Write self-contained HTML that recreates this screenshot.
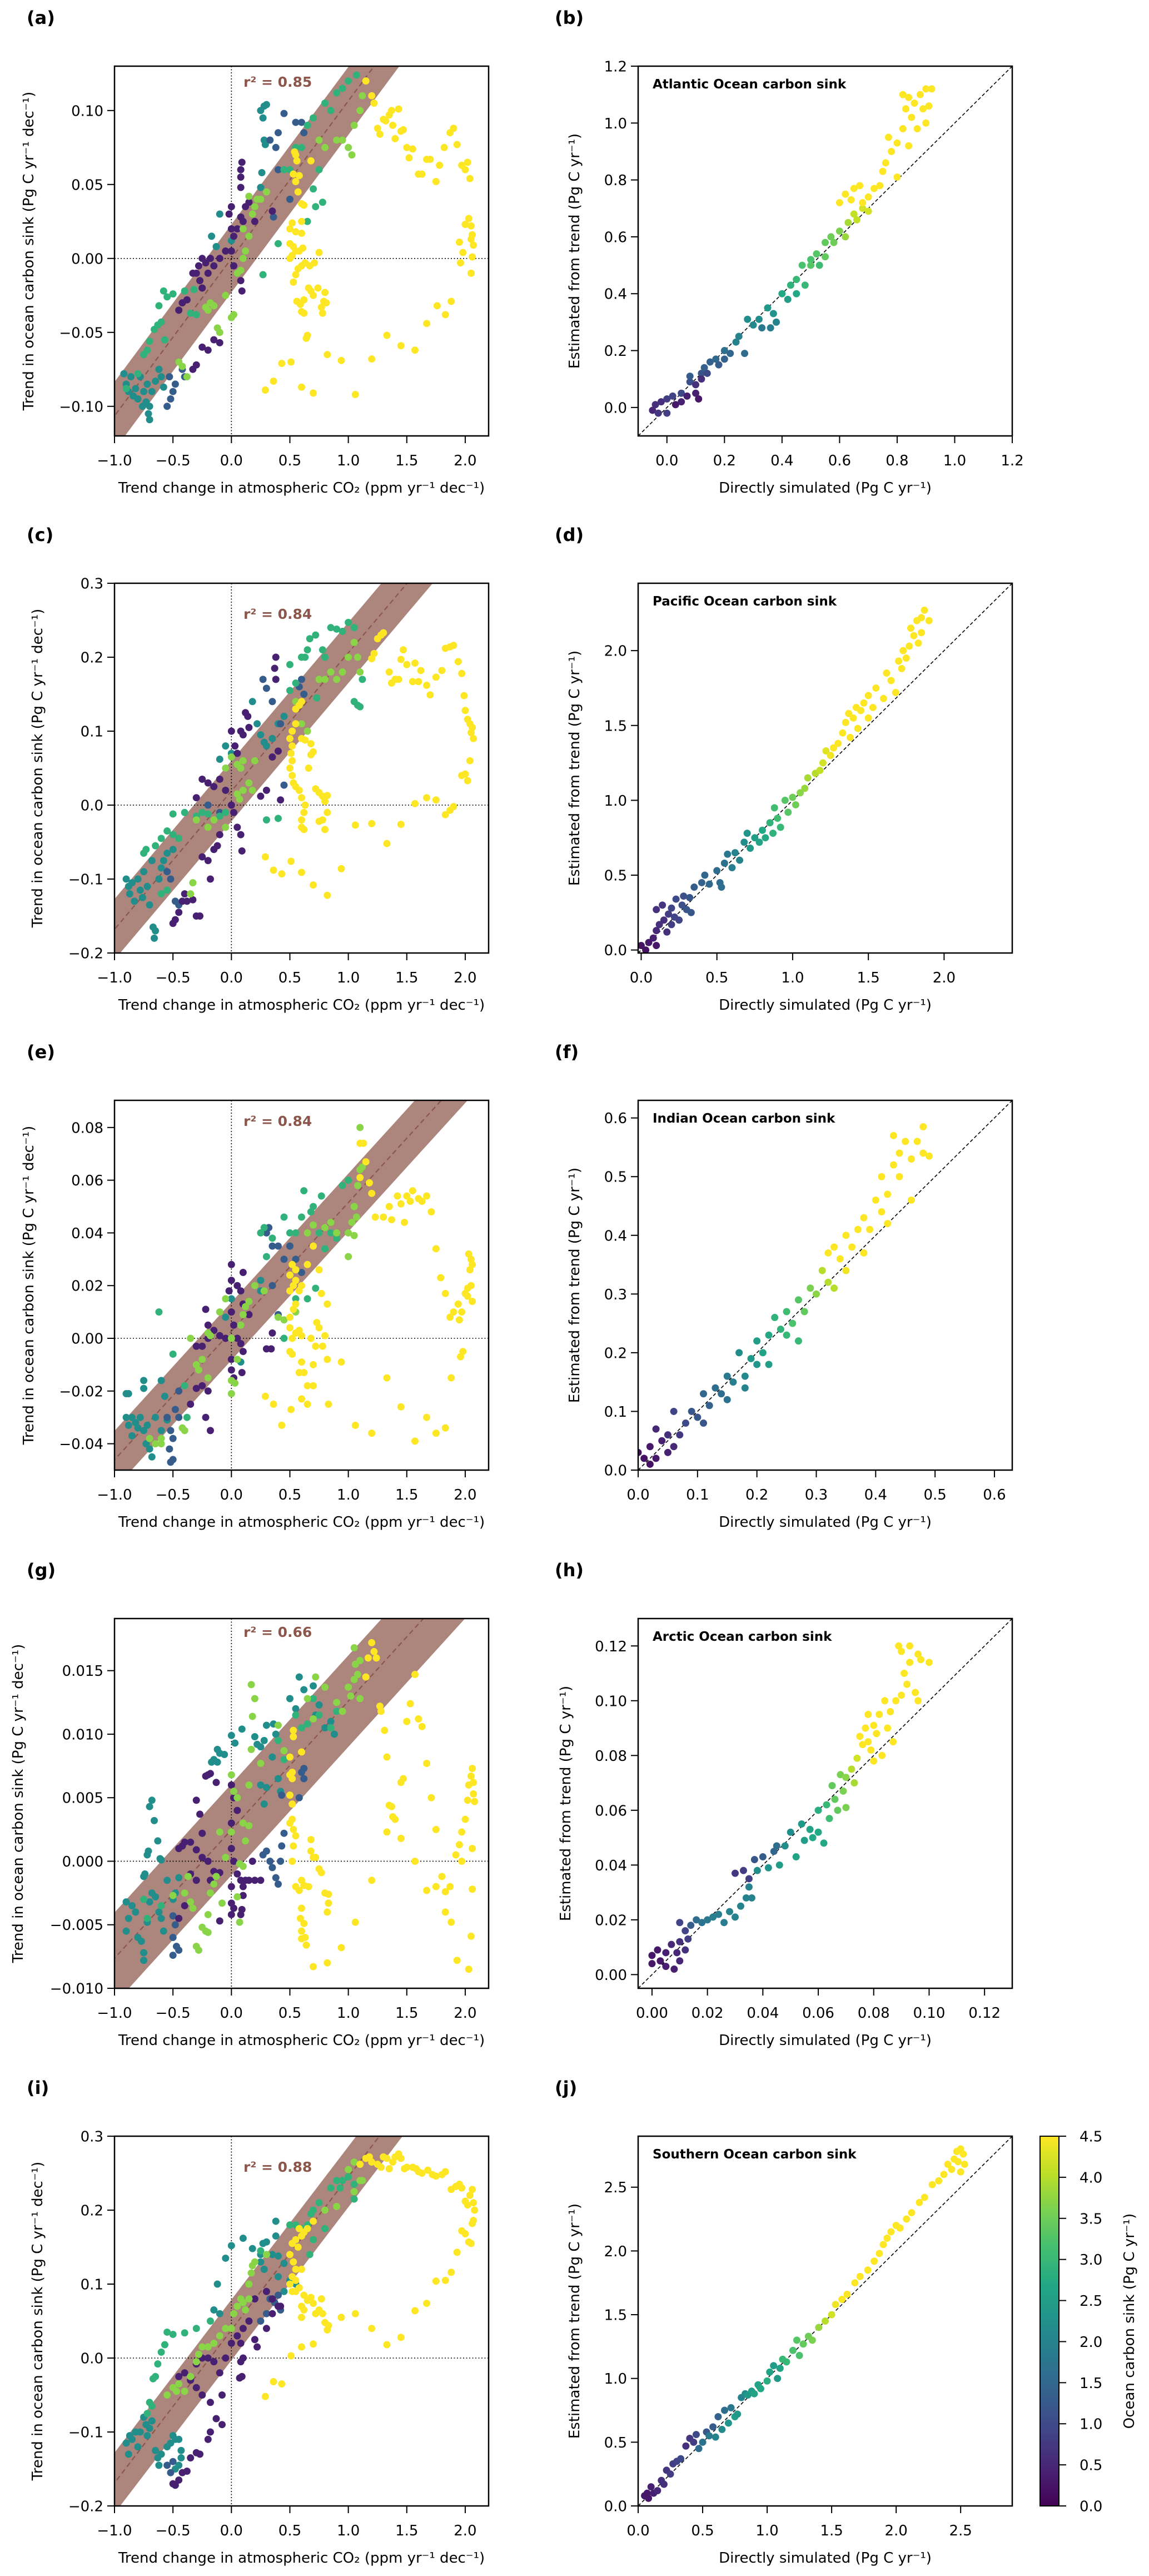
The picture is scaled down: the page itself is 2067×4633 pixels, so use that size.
<!DOCTYPE html>
<html><head><meta charset="utf-8"><style>
html,body{margin:0;padding:0;background:#fff;}
svg{display:block;font-family:"DejaVu Sans","Liberation Sans",sans-serif;}
</style></head><body>
<svg id="fig" width="2067" height="4633" viewBox="0 0 2067 4633" xmlns="http://www.w3.org/2000/svg">
<defs>
<linearGradient id="vir" x1="0" y1="1" x2="0" y2="0">
<stop offset="0" stop-color="#440154"/><stop offset="0.1" stop-color="#482475"/><stop offset="0.2" stop-color="#414487"/><stop offset="0.3" stop-color="#355f8d"/><stop offset="0.4" stop-color="#2a788e"/><stop offset="0.5" stop-color="#21918c"/><stop offset="0.6" stop-color="#22a884"/><stop offset="0.7" stop-color="#44bf70"/><stop offset="0.8" stop-color="#7ad151"/><stop offset="0.9" stop-color="#bddf26"/><stop offset="1" stop-color="#fde725"/>
</linearGradient>
</defs>
</svg>
<script>
// ---------- DATA ----------
const C_Y=4.5, C_T=2.2, C_B=1.3, C_P=0.4, C_G=2.9, C_L=3.7;
const aYellow=[[1.15,0.12],[1.2,0.11],[1.22,0.105],[1.25,0.088],[1.27,0.084],[1.3,0.094],[1.32,0.093],[1.35,0.097],[1.37,0.1],[1.38,0.09],[1.4,0.081],[1.43,0.101],[1.45,0.086],[1.47,0.087],[1.5,0.075],[1.52,0.068],[1.55,0.074],[1.6,0.057],[1.63,0.057],[1.67,0.067],[1.7,0.067],[1.75,0.052],[1.78,0.063],[1.82,0.075],[1.87,0.085],[1.9,0.088],[1.93,0.077],[1.97,0.063],[2.0,0.06],[2.02,0.065],[2.04,0.054],[2.03,0.027],[2.05,0.022],[2.0,0.023],[2.06,0.016],[2.05,0.013],[2.07,0.009],[2.06,0.001],[1.95,0.011],[1.98,0.004],[1.96,-0.003],[2.05,-0.01],[1.88,-0.029],[1.83,-0.038],[1.76,-0.032],[1.67,-0.044],[1.57,-0.062],[1.45,-0.059],[1.33,-0.052],[1.2,-0.068],[1.06,-0.092],[0.94,-0.069],[0.82,-0.065],[0.7,-0.091],[0.6,-0.087],[0.51,-0.07],[0.43,-0.071],[0.36,-0.083],[0.29,-0.089],[0.65,-0.052],[0.64,-0.054],[0.62,-0.037],[0.6,-0.036],[0.56,-0.029],[0.59,-0.031],[0.62,-0.028],[0.66,-0.02],[0.68,-0.022],[0.7,-0.025],[0.74,-0.02],[0.8,-0.023],[0.79,-0.029],[0.81,-0.03],[0.77,-0.033],[0.78,-0.037],[0.53,-0.016],[0.55,-0.011],[0.57,-0.007],[0.6,-0.005],[0.63,-0.003],[0.67,-0.005],[0.71,-0.003],[0.5,0.0],[0.52,0.002],[0.55,0.005],[0.58,0.005],[0.61,0.007],[0.75,0.004],[0.5,0.01],[0.53,0.008],[0.5,0.02],[0.52,0.024],[0.55,0.018],[0.6,0.017],[0.6,0.025],[0.57,0.045],[0.55,0.052],[0.53,0.057],[0.55,0.07],[0.56,0.066],[0.58,0.056],[0.6,0.037],[0.62,0.036],[0.54,0.072],[0.68,0.066]];
const aTeal=[[-0.92,-0.078],[-0.9,-0.085],[-0.88,-0.09],[-0.86,-0.08],[-0.84,-0.093],[-0.82,-0.088],[-0.8,-0.095],[-0.78,-0.08],[-0.76,-0.1],[-0.75,-0.09],[-0.73,-0.097],[-0.72,-0.085],[-0.7,-0.1],[-0.71,-0.105],[-0.7,-0.109],[-0.68,-0.09],[-0.65,-0.083],[-0.62,-0.075],[-0.6,-0.08],[-0.58,-0.087],[0.25,0.1],[0.28,0.103],[0.3,0.104],[0.27,0.095],[0.28,0.08],[0.29,0.077],[-0.1,0.03],[-0.17,0.015],[-0.13,0.008],[0.25,0.048],[0.26,0.058],[0.0,0.012]];
const aBlue=[[-0.55,-0.1],[-0.52,-0.095],[-0.5,-0.09],[-0.48,-0.085],[-0.53,-0.08],[-0.45,-0.07],[-0.42,-0.075],[-0.4,-0.08],[0.33,0.08],[0.38,0.075],[0.4,0.085],[0.45,0.098],[0.55,0.092],[0.6,0.092],[0.62,0.085],[0.4,0.06],[0.36,0.028],[0.5,0.04]];
const aPurple=[[-0.28,-0.005],[-0.25,0.0],[-0.22,-0.003],[-0.2,-0.01],[-0.18,0.0],[-0.15,-0.005],[-0.3,-0.01],[-0.27,-0.015],[-0.25,-0.02],[-0.1,0.0],[-0.05,0.005],[0.0,0.035],[-0.02,0.03],[0.0,0.02],[0.02,0.015],[0.05,0.02],[0.08,0.028],[0.1,0.025],[0.12,0.035],[0.15,0.038],[0.0,0.005],[0.02,-0.005],[0.05,-0.01],[0.08,-0.015],[0.09,-0.022],[0.08,0.06],[0.09,0.065],[0.08,0.055],[0.08,0.048],[-0.33,-0.01],[-0.38,-0.028],[-0.42,-0.03],[-0.45,-0.035],[-0.25,-0.06],[-0.2,-0.062],[-0.15,-0.055],[-0.1,-0.057],[-0.3,-0.072],[-0.33,-0.075],[0.35,0.032],[0.2,0.025]];
const aGreen=[[-0.75,-0.065],[-0.72,-0.062],[-0.7,-0.056],[-0.66,-0.048],[-0.63,-0.045],[-0.6,-0.043],[-0.62,-0.032],[-0.58,-0.022],[-0.55,-0.026],[-0.5,-0.024],[-0.57,-0.055],[-0.4,-0.022],[-0.35,-0.037],[-0.3,-0.038],[-0.32,-0.021],[0.45,0.06],[0.5,0.06],[0.55,0.075],[0.6,0.075],[0.65,0.09],[0.7,0.095],[0.8,0.105],[0.85,0.1],[0.9,0.112],[0.95,0.115],[1.0,0.12],[1.07,0.124],[0.75,0.06],[0.72,0.035],[0.78,0.038],[0.65,0.025],[0.4,0.01],[0.27,-0.011],[0.7,0.047],[-0.9,-0.088],[-0.8,-0.078]];
const aLight=[[-0.2,-0.035],[-0.22,-0.033],[-0.18,-0.03],[-0.15,-0.032],[-0.1,-0.05],[-0.12,-0.047],[-0.05,-0.025],[0.0,-0.04],[0.02,-0.038],[0.05,-0.01],[0.08,-0.008],[0.1,0.0],[0.12,0.005],[0.15,0.015],[0.1,0.02],[0.18,0.03],[0.2,0.035],[0.25,0.04],[0.3,0.045],[0.9,0.08],[0.95,0.08],[1.0,0.075],[1.03,0.07],[1.05,0.09],[1.1,0.1],[1.12,0.11],[0.75,0.08],[0.8,0.075],[0.15,0.042],[0.22,0.04],[-0.45,-0.07],[-0.42,-0.073],[-0.38,-0.08]];

const cYellow=[[1.25,0.225],[1.28,0.23],[1.3,0.233],[1.22,0.205],[1.2,0.198],[1.35,0.18],[1.37,0.165],[1.4,0.17],[1.43,0.17],[1.45,0.197],[1.47,0.21],[1.5,0.19],[1.55,0.167],[1.57,0.192],[1.6,0.167],[1.62,0.182],[1.67,0.162],[1.7,0.149],[1.75,0.173],[1.8,0.182],[1.83,0.212],[1.87,0.214],[1.9,0.216],[1.94,0.194],[1.97,0.178],[1.99,0.148],[2.0,0.128],[2.02,0.116],[2.04,0.11],[2.06,0.105],[2.05,0.098],[2.07,0.09],[2.04,0.06],[2.02,0.033],[2.0,0.042],[1.97,0.04],[1.9,-0.002],[1.87,-0.007],[1.83,-0.013],[1.75,0.007],[1.67,0.01],[1.57,0.002],[1.45,-0.026],[1.33,-0.052],[1.2,-0.025],[1.06,-0.027],[0.94,-0.086],[0.82,-0.122],[0.7,-0.108],[0.6,-0.091],[0.51,-0.076],[0.43,-0.093],[0.36,-0.088],[0.29,-0.07],[0.8,-0.033],[0.78,-0.02],[0.75,-0.022],[0.82,-0.01],[0.8,0.005],[0.82,0.013],[0.78,0.012],[0.75,0.017],[0.72,0.022],[0.6,-0.03],[0.62,-0.033],[0.6,-0.02],[0.62,-0.01],[0.63,0.0],[0.6,0.01],[0.58,0.02],[0.55,0.025],[0.53,0.03],[0.52,0.04],[0.5,0.05],[0.52,0.06],[0.51,0.07],[0.52,0.08],[0.5,0.09],[0.52,0.1],[0.55,0.11],[0.6,0.09],[0.63,0.088],[0.68,0.083],[0.7,0.072],[0.68,0.068],[0.66,0.05],[0.55,0.13],[0.58,0.135],[0.6,0.14]];
const cTeal=[[-0.9,-0.1],[-0.88,-0.11],[-0.87,-0.12],[-0.85,-0.105],[-0.83,-0.13],[-0.8,-0.1],[-0.78,-0.115],[-0.76,-0.125],[-0.75,-0.09],[-0.72,-0.11],[-0.7,-0.135],[-0.68,-0.075],[-0.67,-0.165],[-0.66,-0.18],[-0.65,-0.17],[-0.62,-0.1],[-0.6,-0.085],[-0.58,-0.075],[-0.55,-0.065],[-0.5,-0.06],[0.18,0.14],[0.22,0.11],[0.25,0.095],[0.28,0.085],[0.3,0.08],[0.35,0.09],[0.4,0.11],[0.45,0.12],[-0.1,0.062],[-0.05,0.08],[0.0,0.07]];
const cBlue=[[0.27,0.17],[0.3,0.158],[0.35,0.14],[0.42,0.11],[0.45,0.027],[0.6,0.17],[0.58,0.16],[0.62,0.15],[-0.55,-0.09],[-0.52,-0.1],[-0.48,-0.13],[-0.45,-0.135],[-0.2,0.0],[-0.1,-0.01]];
const cPurple=[[-0.5,-0.16],[-0.48,-0.155],[-0.45,-0.145],[-0.42,-0.13],[-0.4,-0.12],[-0.38,-0.13],[-0.33,-0.128],[-0.3,-0.15],[-0.27,-0.15],[-0.25,-0.07],[-0.2,-0.075],[-0.18,-0.1],[-0.15,-0.06],[-0.12,-0.055],[-0.1,-0.04],[-0.3,0.01],[-0.25,0.035],[-0.2,0.03],[-0.15,0.025],[-0.1,0.035],[-0.05,0.02],[0.0,0.0],[0.02,-0.01],[0.05,-0.03],[0.08,-0.04],[0.09,-0.062],[0.0,0.1],[0.03,0.08],[0.05,0.07],[0.08,0.1],[0.1,0.095],[0.12,0.125],[0.14,0.12],[0.15,0.105],[0.38,0.2],[0.37,0.185],[0.38,0.17],[0.35,0.065],[0.4,0.073],[0.3,0.02],[0.42,0.007],[0.25,0.012]];
const cGreen=[[-0.75,-0.065],[-0.73,-0.06],[-0.65,-0.055],[-0.6,-0.045],[-0.55,-0.035],[-0.5,-0.04],[-0.45,-0.045],[-0.5,-0.012],[-0.4,-0.01],[-0.3,-0.015],[-0.25,-0.01],[-0.2,-0.012],[-0.1,-0.015],[-0.05,-0.01],[-0.6,-0.12],[-0.55,-0.115],[0.5,0.155],[0.55,0.165],[0.6,0.2],[0.63,0.2],[0.65,0.21],[0.67,0.225],[0.72,0.23],[0.78,0.21],[0.85,0.24],[0.9,0.238],[0.95,0.235],[1.0,0.247],[1.05,0.24],[0.5,0.19],[0.3,-0.02],[0.4,-0.018],[0.73,0.145],[0.8,0.2],[1.05,0.14],[1.08,0.135],[1.1,0.133],[1.12,0.17]];
const cLight=[[-0.05,0.05],[0.0,0.065],[0.05,0.055],[0.08,0.05],[0.1,0.06],[0.15,0.03],[0.18,0.02],[0.1,0.02],[0.05,0.015],[0.07,0.008],[0.2,0.06],[0.55,0.14],[0.6,0.11],[0.65,0.1],[0.75,0.17],[0.8,0.17],[0.9,0.17],[0.95,0.18],[1.0,0.2],[1.05,0.22],[1.08,0.2],[1.1,0.18],[0.85,0.18],[-0.35,-0.12],[-0.33,-0.105],[-0.3,-0.02],[-0.2,-0.03],[-0.15,-0.02],[-0.05,-0.03]];

const eYellow=[[1.1,0.074],[1.13,0.074],[1.15,0.067],[1.18,0.059],[1.2,0.055],[1.1,0.061],[1.23,0.046],[1.3,0.046],[1.35,0.05],[1.37,0.045],[1.42,0.054],[1.45,0.051],[1.48,0.044],[1.5,0.054],[1.53,0.052],[1.55,0.056],[1.6,0.053],[1.63,0.052],[1.67,0.054],[1.71,0.048],[1.75,0.034],[1.79,0.023],[1.83,0.017],[1.87,0.008],[1.9,0.01],[1.94,0.013],[1.95,0.007],[1.97,0.01],[2.0,0.017],[2.02,0.019],[2.03,0.032],[2.05,0.03],[2.06,0.028],[2.04,0.026],[2.05,0.02],[2.06,0.014],[2.02,0.016],[1.98,-0.005],[1.96,-0.007],[1.88,-0.015],[1.83,-0.034],[1.75,-0.036],[1.67,-0.03],[1.57,-0.039],[1.45,-0.026],[1.33,-0.015],[1.2,-0.036],[1.06,-0.033],[0.94,-0.009],[0.83,-0.025],[0.82,-0.008],[0.7,-0.018],[0.65,-0.025],[0.6,-0.023],[0.51,-0.027],[0.43,-0.033],[0.36,-0.025],[0.29,-0.022],[0.58,-0.013],[0.6,-0.009],[0.62,-0.013],[0.65,-0.018],[0.7,-0.01],[0.72,-0.003],[0.75,0.004],[0.8,0.001],[0.78,-0.003],[0.73,0.006],[0.68,0.0],[0.5,0.004],[0.52,0.0],[0.5,-0.005],[0.52,-0.006],[0.55,0.002],[0.58,0.003],[0.6,0.001],[0.5,0.008],[0.53,0.011],[0.55,0.013],[0.5,0.018],[0.53,0.02],[0.55,0.022],[0.58,0.018],[0.6,0.02],[0.5,0.024],[0.52,0.028],[0.55,0.026],[0.75,0.026],[0.77,0.017],[0.82,0.013],[0.65,0.028],[0.7,0.035]];
const eTeal=[[-0.9,-0.021],[-0.88,-0.021],[-0.85,-0.03],[-0.9,-0.03],[-0.88,-0.033],[-0.85,-0.037],[-0.82,-0.032],[-0.8,-0.034],[-0.78,-0.03],[-0.75,-0.035],[-0.73,-0.04],[-0.7,-0.042],[-0.68,-0.045],[-0.72,-0.033],[-0.75,-0.016],[-0.75,-0.019],[-0.6,-0.016],[-0.57,-0.022],[-0.65,-0.03],[-0.6,-0.035],[-0.55,-0.031],[0.0,0.015],[-0.05,0.008],[0.08,-0.009],[0.25,0.022],[0.25,0.018]];
const eBlue=[[-0.55,-0.03],[-0.52,-0.035],[-0.5,-0.038],[-0.53,-0.042],[-0.5,-0.046],[-0.52,-0.047],[-0.45,-0.02],[-0.48,-0.027],[-0.45,-0.03],[0.3,0.04],[0.32,0.042],[0.35,0.035],[0.4,0.035],[0.45,0.03],[0.5,0.035],[0.55,0.03],[0.6,0.025],[0.35,0.02],[0.4,0.009]];
const ePurple=[[-0.3,-0.019],[-0.25,-0.018],[-0.2,-0.02],[-0.22,-0.03],[-0.18,-0.035],[-0.35,-0.025],[-0.3,-0.003],[-0.25,-0.003],[-0.2,0.0],[-0.15,0.003],[-0.1,0.001],[-0.05,0.0],[-0.2,0.005],[-0.22,0.011],[0.0,0.028],[0.0,0.022],[-0.02,0.018],[0.05,0.02],[0.08,0.018],[0.1,0.025],[0.0,0.01],[0.02,0.005],[0.05,0.0],[0.08,-0.002],[0.1,-0.005],[0.0,-0.008],[0.0,-0.012],[0.02,-0.015],[0.09,-0.013],[0.3,-0.004],[0.34,-0.004],[0.35,0.002],[0.1,0.013],[0.15,0.009]];
const eGreen=[[0.25,0.04],[0.28,0.042],[0.3,0.031],[0.35,0.038],[0.45,0.046],[0.5,0.04],[0.55,0.04],[0.6,0.046],[0.62,0.056],[0.68,0.048],[0.7,0.05],[0.77,0.054],[0.75,0.04],[0.8,0.034],[0.85,0.04],[0.9,0.038],[0.95,0.058],[1.0,0.06],[0.45,0.0],[0.55,0.015],[0.65,0.015],[0.72,0.019],[-0.5,-0.006],[-0.62,0.01],[-0.4,-0.018],[-0.38,-0.03]];
const eLight=[[-0.3,-0.01],[-0.28,-0.012],[-0.25,-0.008],[-0.2,-0.015],[-0.2,0.002],[-0.18,0.001],[-0.1,0.01],[-0.05,0.015],[0.0,0.0],[0.0,-0.016],[0.03,-0.017],[0.0,-0.021],[0.05,-0.008],[0.08,0.005],[0.1,0.009],[0.12,0.012],[0.15,0.014],[0.2,0.02],[0.28,0.018],[0.4,0.008],[0.45,0.007],[0.55,0.01],[0.65,0.04],[0.7,0.043],[0.8,0.042],[0.85,0.044],[0.9,0.04],[1.0,0.04],[1.03,0.044],[1.05,0.05],[1.05,0.039],[1.07,0.046],[1.08,0.058],[1.1,0.064],[1.12,0.065],[1.1,0.08],[1.0,0.031],[-0.4,-0.035],[-0.42,-0.034],[-0.6,-0.04],[-0.65,-0.04],[-0.7,-0.038],[-0.6,-0.038],[-0.35,0.0]];

const gYellow=[[1.15,0.0145],[1.17,0.016],[1.2,0.0172],[1.22,0.0165],[1.24,0.016],[1.27,0.0122],[1.28,0.0118],[1.31,0.0103],[1.33,0.0082],[1.33,0.0023],[1.35,0.0044],[1.37,0.0043],[1.38,0.0035],[1.4,0.0033],[1.45,0.0062],[1.47,0.0065],[1.45,0.0018],[1.5,0.011],[1.53,0.0124],[1.57,0.0147],[1.6,0.0112],[1.63,0.0106],[1.57,0.0],[1.67,0.0077],[1.71,0.005],[1.75,0.0025],[1.67,-0.0023],[1.75,-0.002],[1.8,-0.0012],[1.83,-0.0024],[1.83,-0.004],[1.87,-0.002],[1.88,-0.0048],[1.93,-0.0078],[1.97,0.0],[1.92,0.0005],[1.95,0.0013],[1.97,0.0023],[2.0,0.0033],[2.02,0.0048],[2.03,0.006],[2.05,0.0067],[2.06,0.0073],[2.07,0.0062],[2.07,0.0053],[2.08,0.0047],[2.06,0.001],[2.06,-0.0022],[2.05,-0.0059],[2.03,-0.0085],[1.2,-0.0015],[1.06,-0.0048],[0.94,-0.0068],[0.82,-0.008],[0.7,-0.0083],[0.82,-0.004],[0.83,-0.0033],[0.8,-0.0025],[0.83,-0.0026],[0.75,-0.0006],[0.77,-0.0009],[0.7,0.0003],[0.72,0.0003],[0.68,0.0008],[0.68,0.0017],[0.6,-0.0015],[0.62,-0.0019],[0.58,-0.0023],[0.55,-0.002],[0.6,-0.0037],[0.59,-0.0045],[0.62,-0.0049],[0.6,-0.0055],[0.63,-0.006],[0.6,-0.0061],[0.64,-0.0066],[0.52,0.0],[0.53,0.0012],[0.55,0.002],[0.53,0.0025],[0.5,0.003],[0.52,0.0033],[0.52,0.0045],[0.5,0.0052],[0.52,0.0065],[0.52,0.007],[0.5,0.0068],[0.5,0.0082],[0.53,0.0098],[0.53,0.0103],[0.6,0.0086],[0.66,-0.002]];
const gTeal=[[-0.9,-0.0032],[-0.88,-0.0045],[-0.9,-0.0055],[-0.85,-0.0035],[-0.82,-0.004],[-0.8,-0.006],[-0.77,-0.0063],[-0.75,-0.0072],[-0.75,-0.0078],[-0.72,-0.0048],[-0.7,-0.0032],[-0.68,-0.0025],[-0.65,-0.0028],[-0.62,-0.004],[-0.6,-0.0045],[-0.58,-0.0055],[-0.75,-0.0012],[-0.74,-0.001],[-0.72,0.0005],[-0.71,0.0008],[-0.7,0.0043],[-0.68,0.0048],[-0.66,0.0032],[-0.63,0.0016],[-0.61,0.0002],[-0.6,0.0001],[-0.55,-0.0015],[-0.5,-0.003],[-0.48,-0.0025],[-0.45,-0.0013],[-0.1,0.0085],[-0.12,0.0088],[-0.15,0.008],[-0.17,0.0078],[-0.12,0.0078],[-0.06,0.0084],[0.03,0.0093],[0.09,0.0104],[0.2,0.0098],[0.22,0.0092],[0.25,0.009],[0.28,0.0095],[0.3,0.0107],[0.36,0.0108],[0.38,0.01],[0.35,0.0082],[0.3,0.0058],[0.28,0.0045],[0.25,0.006],[0.4,0.0065],[0.42,0.0055],[0.5,0.0128],[0.55,0.012],[0.58,0.0145],[0.62,0.0135],[0.7,0.0138],[0.75,0.0123],[0.8,0.0105],[0.85,0.011],[0.88,0.01],[0.72,0.0115],[0.0,0.0099]];
const gBlue=[[-0.5,-0.0043],[-0.48,-0.005],[-0.5,-0.006],[-0.47,-0.0067],[-0.45,-0.007],[-0.5,-0.0074],[0.33,0.0],[0.35,-0.0005],[0.38,-0.0013],[0.4,-0.0018],[0.42,0.0],[0.3,0.0008],[0.27,0.0005],[0.43,0.0012],[0.45,0.0022],[0.43,0.0052],[0.6,0.007],[0.62,0.0073],[0.62,0.0065],[0.58,0.005]];
const gPurple=[[-0.3,0.0048],[-0.27,0.0037],[-0.25,0.0022],[-0.22,0.0067],[-0.2,0.0068],[-0.18,0.0069],[-0.13,0.0062],[-0.45,0.001],[-0.42,0.0012],[-0.4,0.0015],[-0.35,0.0015],[-0.3,0.0009],[-0.25,0.0003],[-0.2,0.0],[-0.15,-0.0008],[-0.1,-0.0009],[-0.35,-0.001],[-0.3,-0.0015],[-0.1,-0.0047],[-0.15,-0.0018],[-0.18,-0.0015],[0.0,0.006],[0.02,0.005],[0.05,0.004],[0.0,0.003],[0.0,0.001],[0.02,0.0],[0.05,-0.001],[0.08,-0.0015],[0.1,-0.002],[0.12,-0.0015],[0.0,-0.002],[0.0,-0.0033],[0.02,-0.0037],[0.0,-0.0042],[0.08,-0.0042],[0.09,-0.0038],[0.1,-0.0027],[0.15,-0.0015],[0.2,-0.0015],[0.25,-0.0015],[0.18,0.0],[-0.4,-0.0035],[-0.45,-0.0045]];
const gGreen=[[0.55,0.0115],[0.6,0.0105],[0.65,0.0108],[0.7,0.0128],[0.75,0.0115],[0.85,0.0105],[0.9,0.0118],[-0.75,-0.003],[-0.72,-0.0045],[-0.6,-0.0035],[0.45,0.008],[0.4,0.0095]];
const gLight=[[-0.3,-0.0067],[-0.28,-0.007],[-0.25,-0.0052],[-0.22,-0.0055],[-0.2,-0.0056],[-0.2,-0.0042],[-0.15,-0.0018],[-0.13,-0.0012],[-0.08,-0.0033],[-0.18,-0.0025],[-0.35,-0.0032],[-0.33,-0.0037],[-0.4,-0.0025],[-0.5,-0.0027],[-0.37,-0.0012],[-0.1,0.0023],[-0.05,0.0003],[0.0,0.0023],[0.02,0.0055],[0.0,0.0068],[0.05,0.005],[0.1,0.003],[0.12,0.0016],[0.15,0.0028],[0.07,-0.0002],[0.05,-0.0028],[0.07,-0.0048],[0.1,-0.0004],[0.15,0.006],[0.17,0.0088],[0.18,0.0114],[0.17,0.0139],[0.2,0.0128],[0.25,0.0077],[0.4,0.0107],[0.45,0.0087],[0.65,0.0128],[0.7,0.0112],[0.72,0.0145],[0.8,0.0137],[0.9,0.0125],[0.95,0.0118],[1.0,0.0137],[1.02,0.013],[1.05,0.0143],[1.06,0.0155],[1.1,0.0158],[1.05,0.0168],[1.08,0.0147],[1.1,0.0128]];

const iYellow=[[1.1,0.262],[1.15,0.27],[1.18,0.272],[1.2,0.265],[1.25,0.262],[1.28,0.258],[1.3,0.272],[1.33,0.27],[1.35,0.256],[1.38,0.265],[1.4,0.272],[1.43,0.276],[1.45,0.27],[1.48,0.256],[1.5,0.258],[1.55,0.258],[1.58,0.256],[1.6,0.252],[1.63,0.25],[1.68,0.254],[1.72,0.248],[1.75,0.246],[1.8,0.248],[1.83,0.252],[1.88,0.228],[1.92,0.232],[1.95,0.235],[1.97,0.23],[2.0,0.212],[2.02,0.207],[2.04,0.22],[2.06,0.228],[2.07,0.21],[2.08,0.2],[2.06,0.182],[2.07,0.186],[2.03,0.157],[2.05,0.155],[2.0,0.168],[1.97,0.172],[1.93,0.143],[1.88,0.116],[1.83,0.105],[1.75,0.104],[1.67,0.074],[1.57,0.064],[1.45,0.028],[1.33,0.018],[1.2,0.04],[1.06,0.06],[0.94,0.055],[0.82,0.038],[0.7,0.019],[0.6,0.015],[0.51,0.003],[0.43,-0.035],[0.36,-0.032],[0.29,-0.052],[0.83,0.044],[0.8,0.048],[0.78,0.06],[0.75,0.065],[0.77,0.08],[0.72,0.06],[0.7,0.074],[0.68,0.082],[0.65,0.078],[0.62,0.085],[0.6,0.07],[0.6,0.055],[0.62,0.065],[0.55,0.09],[0.52,0.09],[0.5,0.1],[0.52,0.11],[0.55,0.12],[0.53,0.13],[0.5,0.14],[0.52,0.155],[0.55,0.16],[0.57,0.15],[0.6,0.165],[0.62,0.17],[0.65,0.175],[0.7,0.185],[0.58,0.175],[0.6,0.12],[0.55,0.105],[0.58,0.095]];
const iTeal=[[-0.9,-0.115],[-0.88,-0.13],[-0.87,-0.105],[-0.85,-0.11],[-0.82,-0.1],[-0.8,-0.12],[-0.78,-0.1],[-0.75,-0.08],[-0.73,-0.09],[-0.72,-0.105],[-0.7,-0.095],[-0.68,-0.085],[-0.65,-0.125],[-0.63,-0.135],[-0.62,-0.145],[-0.6,-0.13],[-0.55,-0.12],[-0.52,-0.115],[-0.5,-0.105],[-0.48,-0.11],[-0.45,-0.11],[-0.43,-0.125],[-0.43,-0.135],[-0.45,-0.145],[-0.48,-0.15],[-0.15,0.065],[-0.1,0.06],[-0.12,0.1],[-0.05,0.135],[0.0,0.152],[0.1,0.162],[0.18,0.148],[0.25,0.14],[0.27,0.155],[0.3,0.157],[0.35,0.14],[0.4,0.138],[0.45,0.128],[0.4,0.11],[0.45,0.09],[0.5,0.105],[0.55,0.1],[0.28,0.12],[0.25,0.13],[0.38,0.185],[0.38,0.165]];
const iBlue=[[-0.55,-0.145],[-0.52,-0.155],[-0.5,-0.14],[0.3,0.06],[0.33,0.08],[0.37,0.075],[0.4,0.085],[0.42,0.065],[0.25,0.05]];
const iPurple=[[-0.5,-0.17],[-0.48,-0.172],[-0.45,-0.165],[-0.42,-0.155],[-0.38,-0.153],[-0.35,-0.135],[-0.3,-0.128],[-0.27,-0.13],[-0.2,-0.11],[-0.18,-0.1],[-0.13,-0.082],[-0.08,-0.09],[-0.08,-0.05],[-0.18,-0.06],[-0.25,-0.05],[-0.3,-0.04],[-0.35,-0.03],[-0.4,-0.02],[-0.45,-0.025],[-0.3,-0.008],[-0.25,0.0],[-0.2,0.0],[-0.15,-0.005],[-0.1,-0.02],[-0.05,0.0],[0.0,0.02],[0.05,0.03],[0.08,0.02],[0.1,0.0],[0.08,-0.005],[0.09,-0.025],[0.07,-0.027],[0.1,0.04],[0.15,0.05],[0.2,0.025],[0.22,0.015],[0.3,0.04],[0.35,0.06],[0.4,0.07],[0.42,0.07],[0.2,0.08],[0.3,0.09],[0.35,0.08]];
const iGreen=[[-0.7,-0.06],[-0.68,-0.065],[-0.72,-0.075],[-0.67,-0.028],[-0.65,-0.025],[-0.63,-0.008],[-0.6,0.008],[-0.57,0.018],[-0.55,0.035],[-0.5,0.032],[-0.4,0.034],[-0.3,0.04],[-0.18,0.05],[0.25,0.145],[0.5,0.18],[0.55,0.18],[0.6,0.175],[0.65,0.18],[0.68,0.195],[0.7,0.2],[0.75,0.21],[0.8,0.175],[0.85,0.23],[0.9,0.24],[0.93,0.23],[0.95,0.24],[1.0,0.245],[1.05,0.235],[1.05,0.215],[0.67,0.14],[0.7,0.16]];
const iLight=[[-0.55,-0.05],[-0.5,-0.04],[-0.47,-0.045],[-0.45,-0.035],[-0.4,-0.045],[-0.35,-0.025],[-0.3,-0.005],[-0.28,0.005],[-0.25,0.015],[-0.2,0.015],[-0.15,0.02],[-0.1,0.03],[-0.05,0.04],[0.0,0.04],[0.02,0.06],[0.05,0.07],[0.08,0.08],[0.1,0.075],[0.12,0.065],[0.15,0.08],[0.15,0.1],[0.17,0.115],[0.18,0.125],[0.2,0.13],[0.3,0.14],[0.8,0.2],[0.9,0.205],[1.0,0.255],[1.05,0.265],[1.1,0.24],[1.05,0.225],[1.12,0.24]];

// right panels: [directly simulated, estimated, colour value]
const bPts=[[-0.05,-0.01,0.5],[-0.04,0.01,0.6],[-0.03,-0.02,0.7],[-0.02,0.02,0.6],[0.0,0.03,0.8],[0.0,-0.02,0.8],[0.02,0.04,0.9],[0.03,0.01,0.3],[0.05,0.02,0.4],[0.05,0.05,1.0],[0.07,0.04,0.4],[0.08,0.09,1.1],[0.08,0.11,1.3],[0.1,0.05,0.4],[0.1,0.08,0.6],[0.11,0.03,0.3],[0.12,0.12,1.2],[0.12,0.1,0.6],[0.13,0.14,1.4],[0.14,0.12,1.0],[0.15,0.16,1.4],[0.17,0.17,1.5],[0.18,0.15,1.3],[0.2,0.2,1.7],[0.2,0.17,1.4],[0.22,0.19,1.5],[0.24,0.23,2.0],[0.25,0.25,2.0],[0.27,0.19,1.6],[0.28,0.31,2.2],[0.3,0.29,2.1],[0.32,0.31,2.2],[0.33,0.28,1.8],[0.35,0.35,2.4],[0.36,0.28,1.9],[0.37,0.33,2.3],[0.38,0.3,2.0],[0.4,0.4,2.7],[0.42,0.38,2.5],[0.43,0.43,2.9],[0.45,0.45,3.0],[0.45,0.4,2.7],[0.47,0.5,3.2],[0.48,0.43,3.0],[0.5,0.52,3.2],[0.5,0.5,3.3],[0.52,0.54,3.3],[0.53,0.5,3.1],[0.55,0.58,3.4],[0.55,0.53,3.4],[0.57,0.6,3.5],[0.58,0.58,3.5],[0.6,0.62,3.6],[0.62,0.6,3.8],[0.63,0.65,3.9],[0.65,0.68,4.1],[0.66,0.66,4.1],[0.68,0.7,4.2],[0.7,0.69,4.2],[0.6,0.72,4.5],[0.62,0.75,4.5],[0.64,0.73,4.5],[0.65,0.77,4.5],[0.67,0.78,4.5],[0.68,0.72,4.5],[0.7,0.74,4.5],[0.72,0.77,4.5],[0.74,0.78,4.5],[0.75,0.83,4.5],[0.76,0.86,4.5],[0.78,0.9,4.5],[0.8,0.81,4.5],[0.8,0.93,4.5],[0.77,0.95,4.5],[0.82,0.98,4.5],[0.83,1.05,4.5],[0.84,1.09,4.5],[0.85,1.02,4.5],[0.86,1.07,4.5],[0.87,0.98,4.5],[0.88,1.1,4.5],[0.89,1.05,4.5],[0.9,1.12,4.5],[0.9,1.0,4.5],[0.92,1.12,4.5],[0.91,1.06,4.5],[0.84,0.92,4.5],[0.82,1.1,4.5]];
const dPts=[[0.0,0.03,0.2],[0.03,0.0,0.2],[0.05,0.05,0.3],[0.08,0.08,0.4],[0.1,0.03,0.3],[0.1,0.13,0.5],[0.1,0.27,0.6],[0.12,0.17,0.6],[0.14,0.3,0.7],[0.15,0.2,0.6],[0.17,0.12,0.6],[0.18,0.24,0.8],[0.2,0.17,0.8],[0.2,0.28,0.9],[0.22,0.22,0.9],[0.23,0.34,1.0],[0.25,0.2,0.9],[0.27,0.3,1.1],[0.28,0.36,1.1],[0.3,0.27,1.2],[0.32,0.35,1.2],[0.33,0.25,1.2],[0.35,0.42,1.3],[0.4,0.45,1.4],[0.42,0.5,1.5],[0.45,0.44,1.5],[0.5,0.53,1.6],[0.52,0.45,1.6],[0.53,0.42,1.6],[0.55,0.58,1.7],[0.57,0.64,1.8],[0.6,0.55,1.9],[0.62,0.65,2.0],[0.65,0.6,2.0],[0.68,0.72,2.2],[0.7,0.78,2.3],[0.72,0.68,2.4],[0.75,0.75,2.5],[0.78,0.72,2.6],[0.8,0.8,2.7],[0.82,0.75,2.7],[0.85,0.85,2.9],[0.87,0.78,2.9],[0.88,0.95,3.1],[0.9,0.88,3.1],[0.92,0.82,3.0],[0.95,1.0,3.3],[0.97,0.92,3.3],[1.0,1.02,3.5],[1.02,0.97,3.5],[1.05,1.05,3.7],[1.08,1.08,3.8],[1.1,1.15,3.9],[1.15,1.18,4.0],[1.18,1.2,4.1],[1.2,1.25,4.2],[1.22,1.33,4.3],[1.25,1.3,4.4],[1.27,1.35,4.5],[1.3,1.38,4.5],[1.33,1.45,4.5],[1.35,1.52,4.5],[1.37,1.58,4.5],[1.38,1.42,4.5],[1.4,1.55,4.5],[1.42,1.62,4.5],[1.43,1.48,4.5],[1.45,1.6,4.5],[1.47,1.65,4.5],[1.5,1.55,4.5],[1.5,1.7,4.5],[1.53,1.62,4.5],[1.55,1.75,4.5],[1.6,1.68,4.5],[1.62,1.85,4.5],[1.65,1.8,4.5],[1.68,1.72,4.5],[1.7,1.93,4.5],[1.72,1.88,4.5],[1.73,2.0,4.5],[1.75,1.95,4.5],[1.77,2.03,4.5],[1.78,2.15,4.5],[1.8,2.1,4.5],[1.82,2.2,4.5],[1.83,2.05,4.5],[1.85,2.22,4.5],[1.87,2.27,4.5],[1.9,2.2,4.5],[1.85,2.12,4.5]];
const fPts=[[0.0,0.03,0.2],[0.01,0.02,0.2],[0.02,0.01,0.2],[0.02,0.04,0.3],[0.03,0.07,0.5],[0.03,0.02,0.3],[0.04,0.05,0.4],[0.05,0.03,0.4],[0.05,0.06,0.6],[0.06,0.04,0.5],[0.06,0.1,0.9],[0.07,0.06,0.7],[0.08,0.08,1.0],[0.09,0.1,1.2],[0.1,0.09,1.2],[0.11,0.08,1.2],[0.11,0.13,1.5],[0.12,0.11,1.4],[0.13,0.14,1.6],[0.14,0.13,1.6],[0.15,0.16,1.8],[0.15,0.12,1.7],[0.16,0.15,1.9],[0.17,0.2,2.2],[0.18,0.16,2.1],[0.18,0.14,2.0],[0.19,0.19,2.4],[0.2,0.22,2.5],[0.2,0.18,2.3],[0.21,0.2,2.6],[0.22,0.23,2.7],[0.22,0.18,2.5],[0.23,0.26,2.9],[0.24,0.24,2.9],[0.25,0.27,3.1],[0.25,0.23,3.0],[0.26,0.25,3.2],[0.27,0.29,3.3],[0.27,0.22,3.0],[0.28,0.27,3.4],[0.29,0.31,3.6],[0.3,0.3,3.7],[0.31,0.34,4.0],[0.32,0.32,4.0],[0.32,0.37,4.5],[0.33,0.38,4.5],[0.34,0.36,4.5],[0.33,0.31,4.0],[0.35,0.4,4.5],[0.35,0.34,4.4],[0.36,0.38,4.5],[0.37,0.41,4.5],[0.38,0.37,4.5],[0.38,0.43,4.5],[0.39,0.41,4.5],[0.4,0.46,4.5],[0.41,0.44,4.5],[0.41,0.5,4.5],[0.42,0.47,4.5],[0.42,0.42,4.5],[0.43,0.52,4.5],[0.43,0.57,4.5],[0.44,0.5,4.5],[0.44,0.54,4.5],[0.45,0.56,4.5],[0.46,0.53,4.5],[0.46,0.46,4.5],[0.47,0.56,4.5],[0.48,0.54,4.5],[0.48,0.585,4.5],[0.49,0.535,4.5]];
const hPts=[[0.0,0.004,0.3],[0.0,0.007,0.3],[0.002,0.009,0.3],[0.003,0.005,0.3],[0.005,0.003,0.4],[0.005,0.008,0.4],[0.007,0.011,0.5],[0.008,0.002,0.4],[0.009,0.008,0.5],[0.01,0.012,0.6],[0.01,0.005,0.5],[0.01,0.019,0.9],[0.012,0.016,0.9],[0.012,0.009,0.6],[0.013,0.013,0.8],[0.014,0.018,1.3],[0.016,0.02,1.6],[0.018,0.019,1.7],[0.02,0.02,1.8],[0.022,0.021,1.9],[0.024,0.022,1.9],[0.026,0.019,1.9],[0.028,0.023,2.0],[0.03,0.021,2.0],[0.032,0.025,2.0],[0.034,0.028,2.0],[0.035,0.032,2.0],[0.036,0.028,2.0],[0.03,0.037,0.7],[0.033,0.038,0.8],[0.035,0.035,0.8],[0.037,0.042,1.2],[0.038,0.038,2.2],[0.04,0.043,1.3],[0.042,0.039,2.3],[0.044,0.045,1.5],[0.045,0.047,1.6],[0.046,0.04,2.5],[0.048,0.047,2.2],[0.05,0.052,2.2],[0.052,0.043,2.6],[0.054,0.055,2.4],[0.055,0.049,2.5],[0.057,0.053,2.6],[0.058,0.05,2.7],[0.06,0.06,2.8],[0.06,0.052,2.7],[0.062,0.048,2.7],[0.063,0.062,3.0],[0.064,0.057,3.1],[0.065,0.069,3.4],[0.066,0.064,3.4],[0.067,0.06,3.4],[0.068,0.073,3.6],[0.069,0.067,3.6],[0.07,0.072,3.7],[0.07,0.061,3.6],[0.072,0.075,4.0],[0.073,0.07,3.9],[0.074,0.079,4.2],[0.075,0.087,4.5],[0.076,0.084,4.5],[0.077,0.09,4.5],[0.078,0.095,4.5],[0.078,0.085,4.5],[0.079,0.082,4.5],[0.08,0.091,4.5],[0.08,0.078,4.5],[0.081,0.088,4.5],[0.082,0.095,4.5],[0.083,0.08,4.5],[0.084,0.1,4.5],[0.085,0.09,4.5],[0.086,0.096,4.5],[0.087,0.085,4.5],[0.088,0.1,4.5],[0.089,0.12,4.5],[0.09,0.118,4.5],[0.09,0.102,4.5],[0.091,0.11,4.5],[0.092,0.106,4.5],[0.093,0.114,4.5],[0.093,0.12,4.5],[0.095,0.103,4.5],[0.096,0.117,4.5],[0.096,0.1,4.5],[0.097,0.115,4.5],[0.1,0.114,4.5]];
const jPts=[[0.05,0.08,0.3],[0.07,0.1,0.3],[0.08,0.06,0.3],[0.1,0.15,0.4],[0.12,0.1,0.4],[0.15,0.12,0.5],[0.18,0.2,0.6],[0.2,0.17,0.6],[0.22,0.28,0.7],[0.25,0.25,0.8],[0.27,0.33,0.8],[0.3,0.35,0.9],[0.33,0.37,1.0],[0.37,0.47,0.6],[0.4,0.53,0.7],[0.43,0.5,0.8],[0.45,0.56,1.0],[0.47,0.45,1.6],[0.5,0.5,1.7],[0.53,0.58,1.2],[0.55,0.55,1.8],[0.58,0.62,1.3],[0.6,0.54,2.0],[0.62,0.7,1.4],[0.65,0.6,2.1],[0.67,0.75,1.6],[0.7,0.65,2.3],[0.72,0.77,1.8],[0.75,0.7,2.5],[0.77,0.72,2.4],[0.8,0.85,2.0],[0.83,0.88,2.2],[0.85,0.87,2.4],[0.88,0.9,2.5],[0.9,0.88,2.6],[0.93,0.95,2.6],[0.95,0.92,2.7],[1.0,0.98,2.8],[1.02,1.05,2.6],[1.05,1.1,2.5],[1.08,1.0,2.4],[1.1,1.08,2.6],[1.12,1.15,3.0],[1.15,1.13,3.0],[1.2,1.22,3.2],[1.23,1.3,3.3],[1.25,1.18,3.2],[1.28,1.27,3.4],[1.32,1.33,3.5],[1.35,1.3,3.6],[1.4,1.4,3.8],[1.45,1.45,4.0],[1.5,1.5,4.2],[1.53,1.58,4.4],[1.58,1.62,4.5],[1.62,1.66,4.5],[1.68,1.75,4.5],[1.72,1.8,4.5],[1.78,1.85,4.5],[1.83,1.92,4.5],[1.87,1.98,4.5],[1.9,2.05,4.5],[1.93,2.1,4.5],[1.96,2.15,4.5],[2.0,2.2,4.5],[2.03,2.18,4.5],[2.08,2.25,4.5],[2.12,2.3,4.5],[2.18,2.38,4.5],[2.22,2.42,4.5],[2.28,2.52,4.5],[2.33,2.55,4.5],[2.37,2.6,4.5],[2.4,2.68,4.5],[2.43,2.64,4.5],[2.45,2.72,4.5],[2.47,2.78,4.5],[2.48,2.7,4.5],[2.5,2.8,4.5],[2.52,2.76,4.5],[2.53,2.68,4.5],[2.5,2.62,4.5]];

const xTicksLeft=[-1.0,-0.5,0.0,0.5,1.0,1.5,2.0];
const yTicksA=[-0.10,-0.05,0.00,0.05,0.10];
const yTicksC=[-0.2,-0.1,0.0,0.1,0.2,0.3];
const yTicksE=[-0.04,-0.02,0.00,0.02,0.04,0.06,0.08];
const yTicksG=[-0.010,-0.005,0.000,0.005,0.010,0.015];
const yTicksI=[-0.2,-0.1,0.0,0.1,0.2,0.3];
const ticksB=[0.0,0.2,0.4,0.6,0.8,1.0,1.2];
const ticksD=[0.0,0.5,1.0,1.5,2.0];
const ticksF=[0.0,0.1,0.2,0.3,0.4,0.5,0.6];
const ticksH=[0.00,0.02,0.04,0.06,0.08,0.10,0.12];
const ticksJ=[0.0,0.5,1.0,1.5,2.0,2.5];
const cbTicks=[0.0,0.5,1.0,1.5,2.0,2.5,3.0,3.5,4.0,4.5];
const r2Values=['0.85','0.84','0.84','0.66','0.88'];
const fitSlope=[0.1065,0.187,0.0488,0.01012,0.207];
const fitIntercept=[0.0,0.019,0.0027,0.00248,0.038];
const fitHalfWidth=[0.023,0.041,0.011,0.0036,0.041];
const oceanNames=['Atlantic','Pacific','Indian','Arctic','Southern'];

// ---------- DRAW ----------
const NS='http://www.w3.org/2000/svg';
const svg=document.getElementById('fig');
const VIR=['#440154','#482475','#414487','#355f8d','#2a788e','#21918c','#22a884','#44bf70','#7ad151','#bddf26','#fde725'];
function hx(h){return [1,3,5].map(i=>parseInt(h.substr(i,2),16));}
function vir(v){let t=Math.max(0,Math.min(1,v/4.5))*10;let i=Math.min(9,Math.floor(t));let f=t-i;let a=hx(VIR[i]),b=hx(VIR[i+1]);return 'rgb('+a.map((c,k)=>Math.round(c+(b[k]-c)*f)).join(',')+')';}
function mk(tag,attrs,parent){const e=document.createElementNS(NS,tag);for(const k in attrs)e.setAttribute(k,attrs[k]);(parent||svg).appendChild(e);return e;}
function txt(s,attrs,parent){const e=mk('text',attrs,parent);e.textContent=s;return e;}
function fmt(v,d){return v.toFixed(d).replace('-','\u2212');}
const TOPS=[119,1049,1979,2911,3842];
const PH=665, PW=673, LX=206, RX=1148;
const leftGroups=[[aTeal,aBlue,aPurple,aGreen,aLight,aYellow],[cTeal,cBlue,cPurple,cGreen,cLight,cYellow],[eTeal,eBlue,ePurple,eGreen,eLight,eYellow],[gTeal,gBlue,gPurple,gGreen,gLight,gYellow],[iTeal,iBlue,iPurple,iGreen,iLight,iYellow]];
const groupC=[C_T,C_B,C_P,C_G,C_L,C_Y];
const leftYR=[[-0.12,0.13],[-0.2,0.3],[-0.05,0.0903],[-0.01,0.0191],[-0.2,0.3]];
const leftYT=[yTicksA,yTicksC,yTicksE,yTicksG,yTicksI];
const leftDec=[2,1,2,3,1];
const r2Off=[28,55,37,24,55];
const ylabLX=[60,76,60,41,76];
const rightPts=[bPts,dPts,fPts,hPts,jPts];
const rightR=[[-0.1,1.2],[-0.02,2.45],[0,0.63],[-0.005,0.13],[0,2.9]];
const rightT=[ticksB,ticksD,ticksF,ticksH,ticksJ];
const rightDec=[1,1,1,2,1];
const ylabRX=[1042,1042,1042,1026,1042];
const letters=[['a','b'],['c','d'],['e','f'],['g','h'],['i','j']];
let clipN=0;

function axes(g,left,top,xr,yr,xt,xdec,yt,ydec,xlabel,ylabel,ylx){
  const X=v=>left+(v-xr[0])/(xr[1]-xr[0])*PW, Y=v=>top+PH-(v-yr[0])/(yr[1]-yr[0])*PH;
  xt.forEach(v=>{const x=X(v);
    const t=mk('line',{x1:x,x2:x,y1:top+PH,y2:top+PH+13,stroke:'#000','stroke-width':2},g);
    
    
    const l=txt(fmt(v,xdec),{x:x,y:top+PH+53,'text-anchor':'middle','font-size':26},g);
    
    });
  yt.forEach(v=>{const y=Y(v);
    const t=mk('line',{x1:left-13,x2:left,y1:y,y2:y,stroke:'#000','stroke-width':2},g);
    
    
    const l=txt(fmt(v,ydec),{x:left-20,y:y+9.5,'text-anchor':'end','font-size':26},g);
    
    });
  const xl=txt(xlabel,{x:left+PW/2,y:top+PH+102,'text-anchor':'middle','font-size':26},g);
  
  
  const yl=txt(ylabel,{x:0,y:0,'text-anchor':'middle','font-size':26,transform:'translate('+ylx+','+(top+PH/2)+') rotate(-90)'},g);
  
  
  return [X,Y];
}
function frame(g,left,top){const r=mk('rect',{x:left,y:top,width:PW,height:PH,fill:'none',stroke:'#000','stroke-width':2.5},g);
  
  }
function clip(left,top){const id='cp'+(clipN++);const c=mk('clipPath',{id:id});mk('rect',{x:left,y:top,width:PW,height:PH},c);return 'url(#'+id+')';}

for(let k=0;k<5;k++){
  const top=TOPS[k];
  const g=mk('g',{});
  
  
  const pl=txt('('+letters[k][0]+')',{x:48,y:top-76,'font-size':32,'font-weight':'bold'},g);
  
  
  const xr=[-1,2.2], yr=leftYR[k];
  const [X,Y]=axes(g,LX,top,xr,yr,xTicksLeft,1,leftYT[k],leftDec[k],'Trend change in atmospheric CO\u2082 (ppm yr\u207b\u00b9 dec\u207b\u00b9)','Trend in ocean carbon sink (Pg C yr\u207b\u00b9 dec\u207b\u00b9)',ylabLX[k]);
  const inner=mk('g',{'clip-path':clip(LX,top)},g);
  const m=fitSlope[k], b=fitIntercept[k], w=fitHalfWidth[k];
  const xa=xr[0]-0.5, xb=xr[1]+0.5;
  const band=mk('polygon',{points:[[X(xa),Y(m*xa+b+w)],[X(xb),Y(m*xb+b+w)],[X(xb),Y(m*xb+b-w)],[X(xa),Y(m*xa+b-w)]].map(p=>p.join(',')).join(' '),fill:'#8c564b','fill-opacity':0.72},inner);
  
  
  const fl=mk('line',{x1:X(xa),y1:Y(m*xa+b),x2:X(xb),y2:Y(m*xb+b),stroke:'#8c564b','stroke-width':2.2,'stroke-dasharray':'9,6'},inner);
  
  
  const zx=mk('line',{x1:X(0),x2:X(0),y1:top,y2:top+PH,stroke:'#000','stroke-width':1.6,'stroke-dasharray':'2,3.5'},inner);
  
  
  const zy=mk('line',{x1:LX,x2:LX+PW,y1:Y(0),y2:Y(0),stroke:'#000','stroke-width':1.6,'stroke-dasharray':'2,3.5'},inner);
  
  
  leftGroups[k].forEach((grp,gi)=>{grp.forEach(p=>{
    const c=mk('circle',{cx:X(p[0]),cy:Y(p[1]),r:6.5,fill:vir(groupC[gi])},inner);
    
    });});
  frame(g,LX,top);
  const r2=mk('text',{x:438,y:top+r2Off[k]+9,'font-size':25,'font-weight':'bold',fill:'#8c564b'},g);
  r2.textContent='r\u00b2 = '+r2Values[k];
  
  

  const h=mk('g',{});
  
  
  const pr=txt('('+letters[k][1]+')',{x:998,y:top-76,'font-size':32,'font-weight':'bold'},h);
  
  
  const rr=rightR[k];
  const [X2,Y2]=axes(h,RX,top,rr,rr,rightT[k],rightDec[k],rightT[k],rightDec[k],'Directly simulated (Pg C yr\u207b\u00b9)','Estimated from trend (Pg C yr\u207b\u00b9)',ylabRX[k]);
  const in2=mk('g',{'clip-path':clip(RX,top)},h);
  const one=mk('line',{x1:X2(rr[0]),y1:Y2(rr[0]),x2:X2(rr[1]),y2:Y2(rr[1]),stroke:'#000','stroke-width':1.6,'stroke-dasharray':'6,4'},in2);
  
  
  rightPts[k].forEach(p=>{
    const c=mk('circle',{cx:X2(p[0]),cy:Y2(p[1]),r:6.5,fill:vir(p[2])},in2);
    
    });
  frame(h,RX,top);
  const tt=txt(oceanNames[k]+' Ocean carbon sink',{x:1174,y:top+40,'font-size':23,'font-weight':'bold'},h);
  
  
}

const cb=mk('g',{});


const cbTop=3842, cbH=665, cbX=1871, cbW=34;
const cr=mk('rect',{x:cbX,y:cbTop,width:cbW,height:cbH,fill:'url(#vir)',stroke:'#000','stroke-width':2},cb);


cbTicks.forEach(v=>{const y=cbTop+cbH-v/4.5*cbH;
  const t=mk('line',{x1:cbX+cbW,x2:cbX+cbW+13,y1:y,y2:y,stroke:'#000','stroke-width':2},cb);
  
  
  const l=txt(v.toFixed(1),{x:1942,y:y+9.5,'font-size':26},cb);
  
  });
const cl=txt('Ocean carbon sink (Pg C yr\u207b\u00b9)',{x:0,y:0,'text-anchor':'middle','font-size':26,transform:'translate(2040,'+(cbTop+cbH/2)+') rotate(-90)'},cb);


</script>
</body></html>
